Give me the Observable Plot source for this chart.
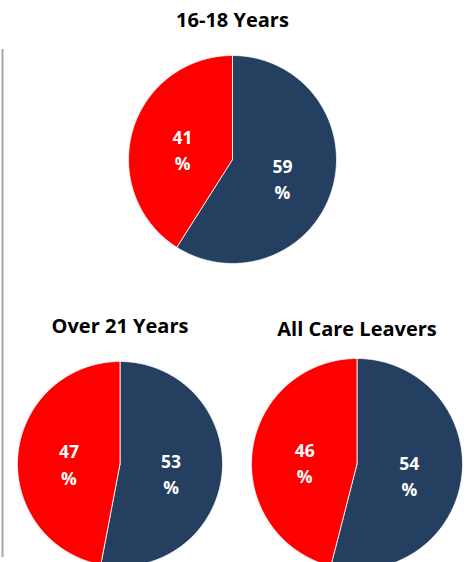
<!DOCTYPE html>
<html>
<head>
<meta charset="utf-8">
<script src="https://cdn.jsdelivr.net/npm/d3@7"></script>
<script src="https://cdn.jsdelivr.net/npm/@observablehq/plot@0.6"></script>
<style>
  html, body { margin: 0; padding: 0; background: #fff; overflow: hidden; }
  #chart { width: 467px; height: 562px; }
</style>
</head>
<body>
<div id="chart"></div>
<script>
// ---- data ----
const groups = ["16-18 Years", "Over 21 Years", "All Care Leavers"];
const seriesNames = ["Series 1", "Series 2"];
const series1Values = [59, 53, 54];
const series2Values = [41, 47, 46];
const labelSuffix = "%";

// ---- layout (positions in picture pixels) ----
const layout = [
  {cx: 232,   cy: 159,   r: 104,   ty: 20.5},
  {cx: 119.5, cy: 463.5, r: 102.5, ty: 326.5},
  {cx: 356.5, cy: 463.5, r: 105.5, ty: 329.5}
];
const colors = ["#243f60", "#ff0000"];

// ---- build slices ----
const pie = d3.pie().sort(null).value(d => d.value);
const polyPoints = [];
const labelRows = [];
const titleRows = [];
groups.forEach((g, i) => {
  const L = layout[i];
  const rows = [
    {group: g, series: seriesNames[0], value: series1Values[i]},
    {group: g, series: seriesNames[1], value: series2Values[i]}
  ];
  titleRows.push({x: L.cx, y: L.ty, text: g});
  pie(rows).forEach((a, j) => {
    const key = g + "|" + j;
    polyPoints.push({key, series: a.data.series, x: L.cx, y: L.cy});
    const n = Math.max(2, Math.ceil((a.endAngle - a.startAngle) / (Math.PI / 360)));
    for (let k = 0; k <= n; k++) {
      const t = a.startAngle + (a.endAngle - a.startAngle) * k / n;
      polyPoints.push({key, series: a.data.series, x: L.cx + L.r * Math.sin(t), y: L.cy - L.r * Math.cos(t)});
    }
    polyPoints.push({key, series: a.data.series, x: L.cx, y: L.cy});
    const mid = (a.startAngle + a.endAngle) / 2;
    const lr = L.r * 0.5;
    labelRows.push({x: L.cx + lr * Math.sin(mid), y: L.cy - lr * Math.cos(mid), text: a.data.value + "\n" + labelSuffix});
  });
});

const chart = Plot.plot({
  width: 467,
  height: 562,
  margin: 0,
  style: {fontFamily: "'Open Sans', Lato, sans-serif", background: "#fff"},
  x: {domain: [0, 467], range: [0, 467], axis: null},
  y: {domain: [0, 562], range: [0, 562], axis: null},
  color: {domain: seriesNames, range: colors},
  marks: [
    Plot.ruleX([2], {y1: 49, y2: 557, stroke: "#a6a6a6", strokeWidth: 2}),
    Plot.line(polyPoints, {x: "x", y: "y", z: "key", fill: "series", stroke: "#ffffff", strokeWidth: 0.8, curve: "linear"}),
    Plot.text(titleRows, {x: "x", y: "y", text: "text", fontSize: 20, fontWeight: "bold", fill: "#000"}),
    Plot.text(labelRows, {x: "x", y: "y", dy: 4, text: "text", fontSize: 17.5, fontWeight: "bold", fill: "#fff", lineHeight: 1.49})
  ]
});
document.getElementById("chart").appendChild(chart);
</script>
</body>
</html>
